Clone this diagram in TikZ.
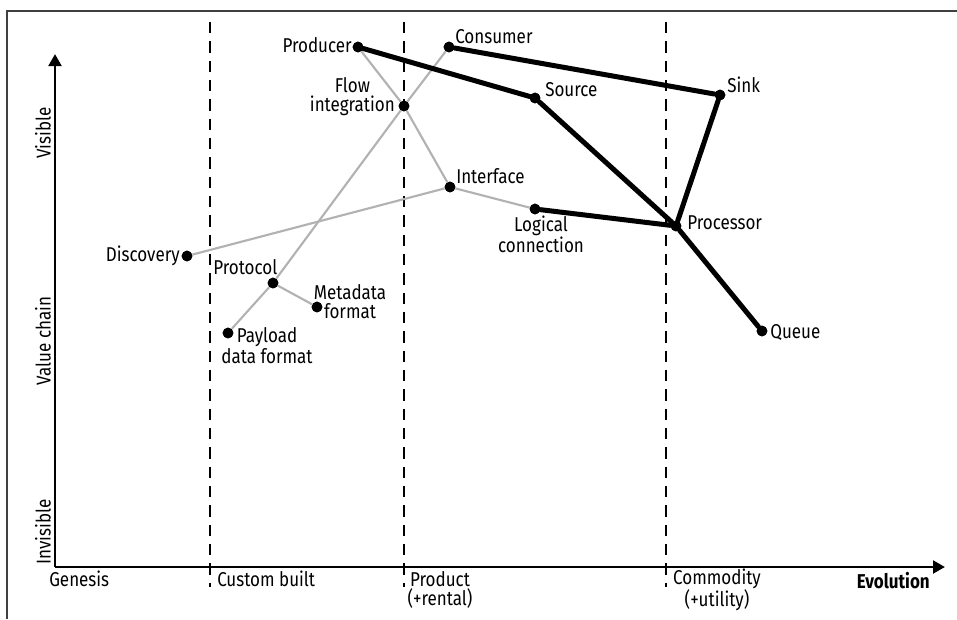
\documentclass[tikz,border=0pt]{standalone}
\usepackage{fontspec}
\setmainfont{Fira Sans}[FakeStretch=0.85]
\usetikzlibrary{arrows.meta}
\begin{document}
\begin{tikzpicture}[x=0.75pt,y=-0.75pt,
  dot/.style={circle,fill=black,inner sep=0pt,minimum size=8pt},
  lbl/.style={font=\fontsize{15}{14.25}\selectfont,inner sep=0pt,align=center},
  strong/.style={line width=3.75pt,line cap=round},
  weak/.style={draw=black!30,line width=1.6pt},
  phase/.style={line width=1.9pt,dash pattern=on 8.5pt off 6pt},
  axis/.style={line width=2.2pt,-{Triangle[length=9pt,width=9.5pt]}},
  frame/.style={draw=black!75,line width=0.8pt}
]
\useasboundingbox (0,0) rectangle (957,619);

% outer frame (top and left edges)
\coordinate (f0) at (7,619);
\coordinate (f1) at (7,11);
\coordinate (f2) at (957,11);
\draw[frame] (f0) -- (f1) -- (f2);

% evolution phase separators
\foreach \px/\nm in {210/pa,404/pb,666/pc}{
  \coordinate (\nm top) at (\px,22);
  \coordinate (\nm bot) at (\px,587);
  \draw[phase] (\nm top) -- (\nm bot);
}

% axes
\coordinate (origin) at (55,567);
\coordinate (ytip) at (55,54);
\coordinate (xtip) at (945,567);
\draw[axis] (origin) -- (ytip);
\draw[axis] (origin) -- (xtip);

% components
\node[dot] (producer)  at (358,47) {};
\node[dot] (consumer)  at (449,47) {};
\node[dot] (flow)      at (404,106) {};
\node[dot] (interface) at (450,187) {};
\node[dot] (discovery) at (187,256) {};
\node[dot] (protocol)  at (273,283) {};
\node[dot] (metadata)  at (317,307) {};
\node[dot] (payload)   at (228,333) {};
\node[dot] (source)    at (535,98) {};
\node[dot] (sink)      at (720,95) {};
\node[dot] (logical)   at (535,209) {};
\node[dot] (processor) at (676,226) {};
\node[dot] (queue)     at (762,331) {};

% light dependencies
\draw[weak] (producer) -- (flow);
\draw[weak] (consumer) -- (flow);
\draw[weak] (flow) -- (interface);
\draw[weak] (flow) -- (protocol);
\draw[weak] (protocol) -- (payload);
\draw[weak] (protocol) -- (metadata);
\draw[weak] (discovery) -- (interface);
\draw[weak] (interface) -- (logical);
% strong dependencies
\draw[strong] (producer) -- (source);
\draw[strong] (source) -- (processor);
\draw[strong] (consumer) -- (sink);
\draw[strong] (sink) -- (processor);
\draw[strong] (logical) -- (processor);
\draw[strong] (processor) -- (queue);
% dots again, above the lines
\foreach \n in {producer,consumer,flow,interface,discovery,protocol,metadata,payload,source,sink,logical,processor,queue}
  \fill (\n.center) circle (4pt);

% component labels
\node[lbl,anchor=base east] (tproducer) at (352,52) {Producer};
\node[lbl,anchor=base west] (tconsumer) at (455,43) {Consumer};
\node[lbl,anchor=east] (tflow) at (395,96.5) {Flow\\integration};
\node[lbl,anchor=base west] (tinterface) at (456,183) {Interface};
\node[lbl,anchor=base east] (tdiscovery) at (180,261) {Discovery};
\node[lbl,anchor=base west] (tprotocol) at (213,274) {Protocol};
\node[lbl] (tmetadata) at (350,302) {Metadata\\format};
\node[lbl] (tpayload) at (267,345.5) {Payload\\data format};
\node[lbl,anchor=base west] (tsource) at (545,96) {Source};
\node[lbl,anchor=base west] (tsink) at (727,92) {Sink};
\node[lbl] (tlogical) at (541,234) {Logical\\connection};
\node[lbl,anchor=base west] (tprocessor) at (687,229) {Processor};
\node[lbl,anchor=base west] (tqueue) at (770,338) {Queue};

% axis labels
\node[lbl,rotate=90] (tvisible) at (43,133) {Visible};
\node[lbl,rotate=90] (tvalue) at (43,341) {Value chain};
\node[lbl,rotate=90] (tinvisible) at (43,532) {Invisible};
\node[lbl,anchor=base west] (tgenesis) at (49,586) {Genesis};
\node[lbl,anchor=base west] (tcustom) at (217,586) {Custom built};
\node[lbl] (tproduct) at (440,590) {Product\\(+rental)};
\node[lbl] (tcommodity) at (717,590) {Commodity\\(+utility)};
\node[lbl,anchor=base east,font=\fontsize{15}{14.25}\selectfont\bfseries] (tevolution) at (930,588) {Evolution};
\end{tikzpicture}
\end{document}
